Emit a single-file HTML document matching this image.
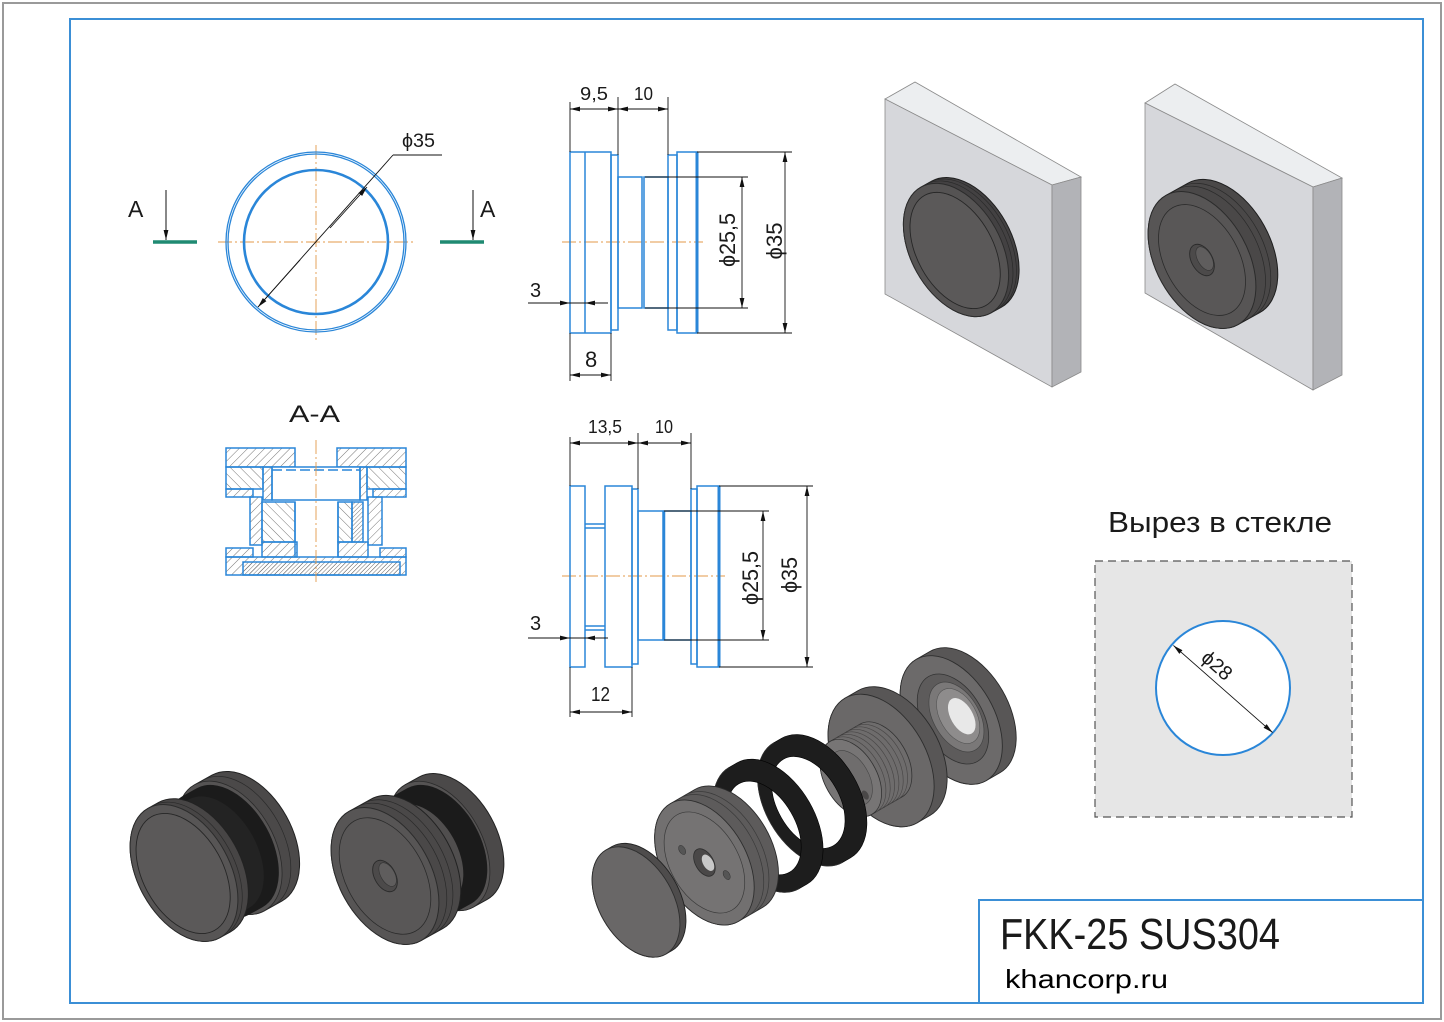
<!DOCTYPE html>
<html><head><meta charset="utf-8"><style>
html,body{margin:0;padding:0;background:#fff;}
svg{display:block;}
text{font-family:"Liberation Sans","DejaVu Sans",sans-serif;fill:#1a1a1a;}
</style></head><body>
<svg width="1444" height="1022" viewBox="0 0 1444 1022" xmlns="http://www.w3.org/2000/svg">
<defs>
<marker id="ar" markerUnits="userSpaceOnUse" markerWidth="10" markerHeight="6" refX="10" refY="3" orient="auto-start-reverse"><path d="M0,0.6 L10,3 L0,5.4 Z" fill="#111"/></marker>
<pattern id="h1" width="6" height="6" patternUnits="userSpaceOnUse" patternTransform="rotate(45)"><line x1="0" y1="0" x2="0" y2="6" stroke="#666" stroke-width="0.9"/></pattern>
<pattern id="h2" width="7" height="7" patternUnits="userSpaceOnUse" patternTransform="rotate(-45)"><line x1="0" y1="0" x2="0" y2="7" stroke="#666" stroke-width="0.9"/></pattern>
<pattern id="h3" width="3" height="3" patternUnits="userSpaceOnUse" patternTransform="rotate(45)"><line x1="0" y1="0" x2="0" y2="3" stroke="#555" stroke-width="0.8"/></pattern>
</defs>

<!-- borders -->
<rect x="3" y="3" width="1438" height="1016" fill="none" stroke="#9a9a9a" stroke-width="2"/>
<rect x="70" y="19" width="1353" height="984" fill="none" stroke="#3b8fd6" stroke-width="2"/>
<rect x="979" y="900" width="444" height="103" fill="none" stroke="#3b8fd6" stroke-width="2"/>
<text x="1000" y="949" font-size="44" textLength="280" lengthAdjust="spacingAndGlyphs">FKK-25 SUS304</text>
<text x="1005" y="988" font-size="26" textLength="163" lengthAdjust="spacingAndGlyphs" style="fill:#000">khancorp.ru</text>

<!-- ===== circle view ===== -->
<g stroke="#e39a4a" stroke-width="0.9" stroke-dasharray="14,3,2,3" fill="none">
<line x1="218" y1="242" x2="414" y2="242"/>
<line x1="316" y1="145" x2="316" y2="340"/>
</g>
<circle cx="316" cy="242" r="90" fill="none" stroke="#2a86d8" stroke-width="1.3"/>
<circle cx="316" cy="242" r="88" fill="none" stroke="#2a86d8" stroke-width="1.3"/>
<circle cx="316" cy="242" r="72" fill="none" stroke="#2a86d8" stroke-width="2.6"/>
<g stroke="#111" stroke-width="0.9" fill="none">
<line x1="258" y1="307" x2="393" y2="155"/>
<line x1="393" y1="155" x2="442" y2="155"/>
<line x1="300" y1="260" x2="258" y2="307" marker-end="url(#ar)"/>
<line x1="330" y1="228" x2="367" y2="187" marker-end="url(#ar)"/>
</g>
<text x="402" y="147" font-size="19" textLength="33" lengthAdjust="spacingAndGlyphs">ϕ35</text>
<!-- section marks -->
<line x1="153" y1="242" x2="197" y2="242" stroke="#1f8a72" stroke-width="3.5"/>
<line x1="440" y1="242" x2="484" y2="242" stroke="#1f8a72" stroke-width="3.5"/>
<line x1="166" y1="190" x2="166" y2="240" stroke="#111" stroke-width="1" marker-end="url(#ar)"/>
<line x1="473" y1="190" x2="473" y2="240" stroke="#111" stroke-width="1" marker-end="url(#ar)"/>
<text x="128" y="217" font-size="23">A</text>
<text x="480" y="217" font-size="23">A</text>

<!-- ===== section A-A ===== -->
<text x="289" y="422" font-size="24" textLength="51" lengthAdjust="spacingAndGlyphs">A-A</text>
<g stroke="#2a86d8" stroke-width="1.5">
<rect x="226" y="448" width="69" height="19" fill="url(#h1)"/>
<rect x="337" y="448" width="69" height="19" fill="url(#h1)"/>
<rect x="226" y="467" width="37" height="22" fill="url(#h2)"/>
<rect x="367" y="467" width="39" height="22" fill="url(#h2)"/>
<rect x="272" y="467" width="88" height="33" fill="#fff"/>
<rect x="263" y="467" width="9" height="33" fill="url(#h1)"/>
<rect x="360" y="467" width="7" height="33" fill="url(#h1)"/>
<rect x="226" y="489" width="27" height="8" fill="url(#h1)"/>
<rect x="373" y="489" width="33" height="8" fill="url(#h1)"/>
<rect x="250" y="497" width="12" height="48" fill="url(#h1)"/>
<rect x="368" y="497" width="14" height="48" fill="url(#h1)"/>
<rect x="262" y="502" width="33" height="40" fill="url(#h2)"/>
<rect x="338" y="502" width="14" height="40" fill="url(#h2)"/>
<rect x="352" y="502" width="11" height="40" fill="url(#h3)"/>
<rect x="262" y="542" width="35" height="15" fill="url(#h1)"/>
<rect x="338" y="542" width="30" height="15" fill="url(#h1)"/>
<rect x="226" y="548" width="27" height="9" fill="url(#h1)"/>
<rect x="380" y="548" width="26" height="9" fill="url(#h1)"/>
<rect x="226" y="557" width="180" height="18" fill="url(#h1)"/>
<rect x="243" y="562" width="157" height="13" fill="url(#h3)"/>
<line x1="295" y1="502" x2="295" y2="557"/>
<line x1="338" y1="502" x2="338" y2="557"/>
</g>
<line x1="272" y1="470" x2="360" y2="470" stroke="#2a86d8" stroke-width="1.5" stroke-dasharray="10,4"/>
<line x1="316" y1="440" x2="316" y2="582" stroke="#e39a4a" stroke-width="0.9" stroke-dasharray="14,3,2,3"/>

<!-- ===== side view 1 ===== -->
<line x1="562" y1="242" x2="703" y2="242" stroke="#e39a4a" stroke-width="0.9" stroke-dasharray="14,3,2,3"/>
<g fill="none" stroke="#2a86d8" stroke-width="1.5">
<rect x="570" y="152" width="41" height="181"/>
<line x1="585" y1="152" x2="585" y2="333"/>
<rect x="611" y="155" width="7" height="175"/>
<rect x="618" y="177" width="24" height="131"/>
<rect x="644" y="177" width="24" height="131"/>
<rect x="668" y="155" width="9" height="175"/>
<rect x="677" y="152" width="20" height="181"/>
<line x1="697" y1="152" x2="697" y2="333" stroke-width="3"/>
</g>
<g stroke="#111" stroke-width="0.9" fill="none">
<line x1="570" y1="102" x2="570" y2="152"/>
<line x1="618" y1="97" x2="618" y2="155"/>
<line x1="668" y1="97" x2="668" y2="155"/>
<line x1="570" y1="109" x2="618" y2="109" marker-start="url(#ar)" marker-end="url(#ar)"/>
<line x1="618" y1="109" x2="668" y2="109" marker-start="url(#ar)" marker-end="url(#ar)"/>
<line x1="645" y1="177" x2="748" y2="177"/>
<line x1="645" y1="308" x2="748" y2="308"/>
<line x1="742" y1="177" x2="742" y2="308" marker-start="url(#ar)" marker-end="url(#ar)"/>
<line x1="697" y1="152" x2="792" y2="152"/>
<line x1="697" y1="333" x2="792" y2="333"/>
<line x1="785" y1="152" x2="785" y2="333" marker-start="url(#ar)" marker-end="url(#ar)"/>
<line x1="528" y1="303" x2="608" y2="303"/>
<line x1="552" y1="303" x2="570" y2="303" marker-end="url(#ar)"/>
<line x1="603" y1="303" x2="585" y2="303" marker-end="url(#ar)"/>
<line x1="570" y1="333" x2="570" y2="381"/>
<line x1="611" y1="333" x2="611" y2="381"/>
<line x1="570" y1="375" x2="611" y2="375" marker-start="url(#ar)" marker-end="url(#ar)"/>
</g>
<text x="580" y="100" font-size="18" textLength="28" lengthAdjust="spacingAndGlyphs">9,5</text>
<text x="634" y="100" font-size="18" textLength="19" lengthAdjust="spacingAndGlyphs">10</text>
<text x="530" y="297" font-size="20">3</text>
<text x="585" y="367" font-size="22">8</text>
<text transform="translate(735,240) rotate(-90)" text-anchor="middle" font-size="22" textLength="54" lengthAdjust="spacingAndGlyphs">ϕ25,5</text>
<text transform="translate(782,241) rotate(-90)" text-anchor="middle" font-size="22" textLength="37" lengthAdjust="spacingAndGlyphs">ϕ35</text>

<!-- ===== side view 2 ===== -->
<line x1="562" y1="576" x2="725" y2="576" stroke="#e39a4a" stroke-width="0.9" stroke-dasharray="14,3,2,3"/>
<g fill="none" stroke="#2a86d8" stroke-width="1.5">
<rect x="570" y="486" width="15" height="181"/>
<line x1="585" y1="524" x2="605" y2="524"/>
<line x1="585" y1="528" x2="605" y2="528"/>
<line x1="585" y1="626" x2="605" y2="626"/>
<line x1="585" y1="630" x2="605" y2="630"/>
<rect x="605" y="486" width="27" height="181"/>
<rect x="632" y="489" width="6" height="175"/>
<rect x="638" y="511" width="25" height="129"/>
<rect x="664" y="511" width="27" height="129"/>
<line x1="664" y1="511" x2="664" y2="640" stroke-width="2.5"/>
<rect x="691" y="489" width="6" height="175"/>
<rect x="697" y="486" width="22" height="181"/>
<line x1="719" y1="486" x2="719" y2="667" stroke-width="3"/>
</g>
<g stroke="#111" stroke-width="0.9" fill="none">
<line x1="570" y1="437" x2="570" y2="486"/>
<line x1="638" y1="433" x2="638" y2="489"/>
<line x1="691" y1="433" x2="691" y2="489"/>
<line x1="570" y1="443" x2="638" y2="443" marker-start="url(#ar)" marker-end="url(#ar)"/>
<line x1="638" y1="443" x2="691" y2="443" marker-start="url(#ar)" marker-end="url(#ar)"/>
<line x1="664" y1="511" x2="769" y2="511"/>
<line x1="664" y1="640" x2="769" y2="640"/>
<line x1="763" y1="511" x2="763" y2="640" marker-start="url(#ar)" marker-end="url(#ar)"/>
<line x1="719" y1="486" x2="813" y2="486"/>
<line x1="719" y1="667" x2="813" y2="667"/>
<line x1="807" y1="486" x2="807" y2="667" marker-start="url(#ar)" marker-end="url(#ar)"/>
<line x1="528" y1="638" x2="608" y2="638"/>
<line x1="552" y1="638" x2="570" y2="638" marker-end="url(#ar)"/>
<line x1="603" y1="638" x2="585" y2="638" marker-end="url(#ar)"/>
<line x1="570" y1="667" x2="570" y2="717"/>
<line x1="632" y1="667" x2="632" y2="717"/>
<line x1="570" y1="712" x2="632" y2="712" marker-start="url(#ar)" marker-end="url(#ar)"/>
</g>
<text x="588" y="433" font-size="18" textLength="34" lengthAdjust="spacingAndGlyphs">13,5</text>
<text x="655" y="433" font-size="18" textLength="18" lengthAdjust="spacingAndGlyphs">10</text>
<text x="530" y="630" font-size="20">3</text>
<text x="591" y="701" font-size="20" textLength="19" lengthAdjust="spacingAndGlyphs">12</text>
<text transform="translate(758,578) rotate(-90)" text-anchor="middle" font-size="22" textLength="54" lengthAdjust="spacingAndGlyphs">ϕ25,5</text>
<text transform="translate(797,575) rotate(-90)" text-anchor="middle" font-size="22" textLength="36" lengthAdjust="spacingAndGlyphs">ϕ35</text>

<!-- ===== panel 1 ===== -->
<g stroke="#8a8a8a" stroke-width="0.8">
<polygon points="885,99 915,82 1081,177 1052,185" fill="#eceef0"/>
<polygon points="885,99 1052,185 1052,387 885,294" fill="#d6d7db"/>
<polygon points="1052,185 1081,177 1081,372 1052,387" fill="#b2b3b7"/>
</g>
<g transform="translate(956,250) rotate(-29)">
<path d="M0,-72 L12,-72 A45,72 0 0 1 12,72 L0,72 A45,72 0 0 1 0,-72Z" fill="#434142" stroke="#1e1e1e" stroke-width="1"/>
<path d="M5,-72 A45,72 0 0 1 5,72" fill="none" stroke="#2a2a2a" stroke-width="0.7"/>
<path d="M9,-72 A45,72 0 0 1 9,72" fill="none" stroke="#2a2a2a" stroke-width="0.7"/>
<ellipse cx="0" cy="0" rx="45" ry="72" fill="#555353" stroke="#2b2b2b" stroke-width="1"/>
<ellipse cx="-1" cy="0" rx="38" ry="63" fill="#5b5959" stroke="#262626" stroke-width="0.9"/>
</g>

<!-- ===== panel 2 ===== -->
<g stroke="#8a8a8a" stroke-width="0.8">
<polygon points="1145,103 1175,84 1342,178 1313,187" fill="#eceef0"/>
<polygon points="1145,103 1313,187 1313,390 1145,293" fill="#d6d7db"/>
<polygon points="1313,187 1342,178 1342,375 1313,390" fill="#b2b3b7"/>
</g>
<g transform="translate(1202,260) rotate(-29)">
<path d="M0,-74 L25,-74 A46,74 0 0 1 25,74 L0,74 A46,74 0 0 1 0,-74Z" fill="#4a4848" stroke="#1e1e1e" stroke-width="1"/>
<path d="M11,-74 A46,74 0 0 1 11,74" fill="none" stroke="#2a2a2a" stroke-width="0.7"/>
<path d="M17,-74 A46,74 0 0 1 17,74" fill="none" stroke="#2a2a2a" stroke-width="0.7"/>
<ellipse cx="0" cy="0" rx="46" ry="74" fill="#575555" stroke="#2b2b2b" stroke-width="1"/>
<ellipse cx="0" cy="0" rx="37" ry="60" fill="#595757" stroke="#2b2b2b" stroke-width="0.8"/>
<ellipse cx="0" cy="0" rx="10.5" ry="17" fill="#4c4a4a" stroke="#2b2b2b" stroke-width="0.9"/>
<ellipse cx="3" cy="0" rx="7" ry="13" fill="#5f5d5d" stroke="#333" stroke-width="0.6"/>
</g>

<!-- ===== bottom-left assembly 1 ===== -->
<g transform="translate(184,873) rotate(-29)">
<path d="M52,-72 L72,-72 A45,72 0 0 1 72,72 L52,72 A45,72 0 0 1 52,-72Z" fill="#4b4949" stroke="#222" stroke-width="1"/>
<path d="M62,-72 A45,72 0 0 1 62,72" fill="none" stroke="#2a2a2a" stroke-width="0.7"/>
<ellipse cx="52" cy="0" rx="45" ry="72" fill="#555353" stroke="#2a2a2a" stroke-width="0.8"/>
<path d="M36,-68 L52,-68 A42,68 0 0 1 52,68 L36,68 A42,68 0 0 1 36,-68Z" fill="#1b1b1b"/>
<path d="M12,-62 L40,-62 A38,62 0 0 1 40,62 L12,62 A38,62 0 0 1 12,-62Z" fill="#232323"/>
<path d="M0,-74 L12,-74 A46,74 0 0 1 12,74 L0,74 A46,74 0 0 1 0,-74Z" fill="#474545" stroke="#222" stroke-width="1"/>
<path d="M5,-74 A46,74 0 0 1 5,74" fill="none" stroke="#2a2a2a" stroke-width="0.7"/>
<ellipse cx="0" cy="0" rx="46" ry="74" fill="#575555" stroke="#2b2b2b" stroke-width="1"/>
<ellipse cx="-1" cy="0" rx="40" ry="65" fill="#5b5959" stroke="#262626" stroke-width="0.9"/>
</g>

<!-- ===== bottom-left assembly 2 ===== -->
<g transform="translate(385,876) rotate(-29)">
<path d="M62,-70 L78,-70 A43,70 0 0 1 78,70 L62,70 A43,70 0 0 1 62,-70Z" fill="#4b4949" stroke="#222" stroke-width="1"/>
<ellipse cx="62" cy="0" rx="43" ry="70" fill="#555353" stroke="#2a2a2a" stroke-width="0.8"/>
<path d="M45,-66 L62,-66 A41,66 0 0 1 62,66 L45,66 A41,66 0 0 1 45,-66Z" fill="#1b1b1b"/>
<path d="M30,-54 L45,-54 A33,54 0 0 1 45,54 L30,54 A33,54 0 0 1 30,-54Z" fill="#504e4e"/>
<path d="M24,-62 L31,-62 A38,62 0 0 1 31,62 L24,62 A38,62 0 0 1 24,-62Z" fill="#1e1e1e"/>
<path d="M0,-74 L25,-74 A46,74 0 0 1 25,74 L0,74 A46,74 0 0 1 0,-74Z" fill="#4a4848" stroke="#222" stroke-width="1"/>
<path d="M9,-74 A46,74 0 0 1 9,74" fill="none" stroke="#2a2a2a" stroke-width="0.7"/>
<path d="M16,-74 A46,74 0 0 1 16,74" fill="none" stroke="#2a2a2a" stroke-width="0.7"/>
<ellipse cx="0" cy="0" rx="46" ry="74" fill="#575555" stroke="#2b2b2b" stroke-width="1"/>
<ellipse cx="0" cy="0" rx="39" ry="63" fill="#595757" stroke="#2b2b2b" stroke-width="0.8"/>
<ellipse cx="0" cy="0" rx="10.5" ry="17" fill="#4c4a4a" stroke="#2b2b2b" stroke-width="0.9"/>
<ellipse cx="3" cy="0" rx="7" ry="13" fill="#5f5d5d" stroke="#333" stroke-width="0.6"/>
</g>

<!-- ===== exploded view ===== -->
<g transform="translate(636,902) rotate(-30)">
<!-- last flange -->
<path d="M364,-70 L380,-70 A43,70 0 0 1 380,70 L364,70 A43,70 0 0 1 364,-70Z" fill="#585656" stroke="#2a2a2a" stroke-width="0.9"/>
<ellipse cx="364" cy="0" rx="43" ry="70" fill="#6c6a6a" stroke="#2e2e2e" stroke-width="0.9"/>
<ellipse cx="366" cy="0" rx="30" ry="49" fill="#5d5b5b" stroke="#333" stroke-width="0.8"/>
<ellipse cx="370" cy="0" rx="23" ry="38" fill="#7a7878" stroke="#444" stroke-width="0.7"/>
<ellipse cx="372" cy="0" rx="18" ry="30" fill="#8e8c8c" stroke="#555" stroke-width="0.6"/>
<ellipse cx="375" cy="2" rx="11" ry="20" fill="#e8e8e8"/>
<!-- threaded piece -->
<path d="M283,-72 L298,-72 A45,72 0 0 1 298,72 L283,72 A45,72 0 0 1 283,-72Z" fill="#585656" stroke="#2a2a2a" stroke-width="0.9"/>
<ellipse cx="283" cy="0" rx="45" ry="72" fill="#6a6868" stroke="#2e2e2e" stroke-width="0.9"/>
<path d="M248,-42 L283,-42 A26,42 0 0 1 283,42 L248,42 A26,42 0 0 1 248,-42Z" fill="#6e6c6c" stroke="#333" stroke-width="0.8"/>
<g fill="none" stroke="#4a4848" stroke-width="0.7">
<path d="M253,-42 A26,42 0 0 1 253,42"/><path d="M258,-42 A26,42 0 0 1 258,42"/><path d="M263,-42 A26,42 0 0 1 263,42"/><path d="M268,-42 A26,42 0 0 1 268,42"/><path d="M273,-42 A26,42 0 0 1 273,42"/><path d="M278,-42 A26,42 0 0 1 278,42"/>
</g>
<ellipse cx="248" cy="0" rx="26" ry="42" fill="#777575" stroke="#333" stroke-width="0.8"/>
<ellipse cx="248" cy="0" rx="18" ry="30" fill="#6f6d6d" stroke="#444" stroke-width="0.6"/>
<ellipse cx="244" cy="-22" rx="3" ry="5" fill="#4a4848"/>
<ellipse cx="252" cy="22" rx="3" ry="5" fill="#4a4848"/>
<!-- gasket 2 -->
<path fill-rule="evenodd" d="M199,-69 L208,-69 A43,69 0 0 1 208,69 L199,69 A43,69 0 0 1 199,-69Z M168,0 A31,50 0 1 0 230,0 A31,50 0 1 0 168,0Z" fill="#1d1d1d" stroke="#000" stroke-width="0.6"/>
<path d="M199,-69 A43,69 0 0 0 199,69" fill="none" stroke="#333" stroke-width="0.8"/>
<!-- gasket 1 -->
<path fill-rule="evenodd" d="M148,-70 L157,-70 A43,70 0 0 1 157,70 L148,70 A43,70 0 0 1 148,-70Z M117,0 A31,51 0 1 0 179,0 A31,51 0 1 0 117,0Z" fill="#1d1d1d" stroke="#000" stroke-width="0.6"/>
<path d="M148,-70 A43,70 0 0 0 148,70" fill="none" stroke="#333" stroke-width="0.8"/>
<!-- flange with holes -->
<path d="M79,-68 L107,-68 A42,68 0 0 1 107,68 L79,68 A42,68 0 0 1 79,-68Z" fill="#5d5b5b" stroke="#2a2a2a" stroke-width="0.9"/>
<path d="M90,-68 A42,68 0 0 1 90,68" fill="none" stroke="#3a3a3a" stroke-width="0.7"/>
<path d="M96,-68 A42,68 0 0 1 96,68" fill="none" stroke="#3a3a3a" stroke-width="0.7"/>
<ellipse cx="79" cy="0" rx="42" ry="68" fill="#727070" stroke="#2e2e2e" stroke-width="0.9"/>
<ellipse cx="79" cy="0" rx="34" ry="55" fill="#757373" stroke="#3a3a3a" stroke-width="0.7"/>
<ellipse cx="79" cy="0" rx="9" ry="15" fill="#4a4848" stroke="#2e2e2e" stroke-width="0.8"/>
<ellipse cx="82" cy="2" rx="5" ry="9" fill="#c8c8c8"/>
<ellipse cx="66" cy="-22" rx="3" ry="5" fill="#555" stroke="#333" stroke-width="0.5"/>
<ellipse cx="92" cy="22" rx="3" ry="5" fill="#555" stroke="#333" stroke-width="0.5"/>
<!-- cap -->
<path d="M0,-60 L7,-60 A37,60 0 0 1 7,60 L0,60 A37,60 0 0 1 0,-60Z" fill="#4e4c4c" stroke="#222" stroke-width="0.9"/>
<ellipse cx="0" cy="0" rx="37" ry="60" fill="#696767" stroke="#2e2e2e" stroke-width="0.9"/>
</g>

<!-- ===== cutout in glass ===== -->
<text x="1108" y="532" font-size="29" textLength="224" lengthAdjust="spacingAndGlyphs">Вырез в стекле</text>
<rect x="1095" y="561" width="257" height="256" fill="#e6e6e6" stroke="#555" stroke-width="1.2" stroke-dasharray="8,5"/>
<circle cx="1223" cy="688" r="67" fill="#fff" stroke="#2a86d8" stroke-width="2"/>
<g transform="translate(1223,689) rotate(41.3)">
<line x1="-66" y1="0" x2="66" y2="0" stroke="#111" stroke-width="0.9" marker-start="url(#ar)" marker-end="url(#ar)"/>
<text x="-20" y="-7" text-anchor="middle" font-size="20">ϕ28</text>
</g>
</svg>
</body></html>
